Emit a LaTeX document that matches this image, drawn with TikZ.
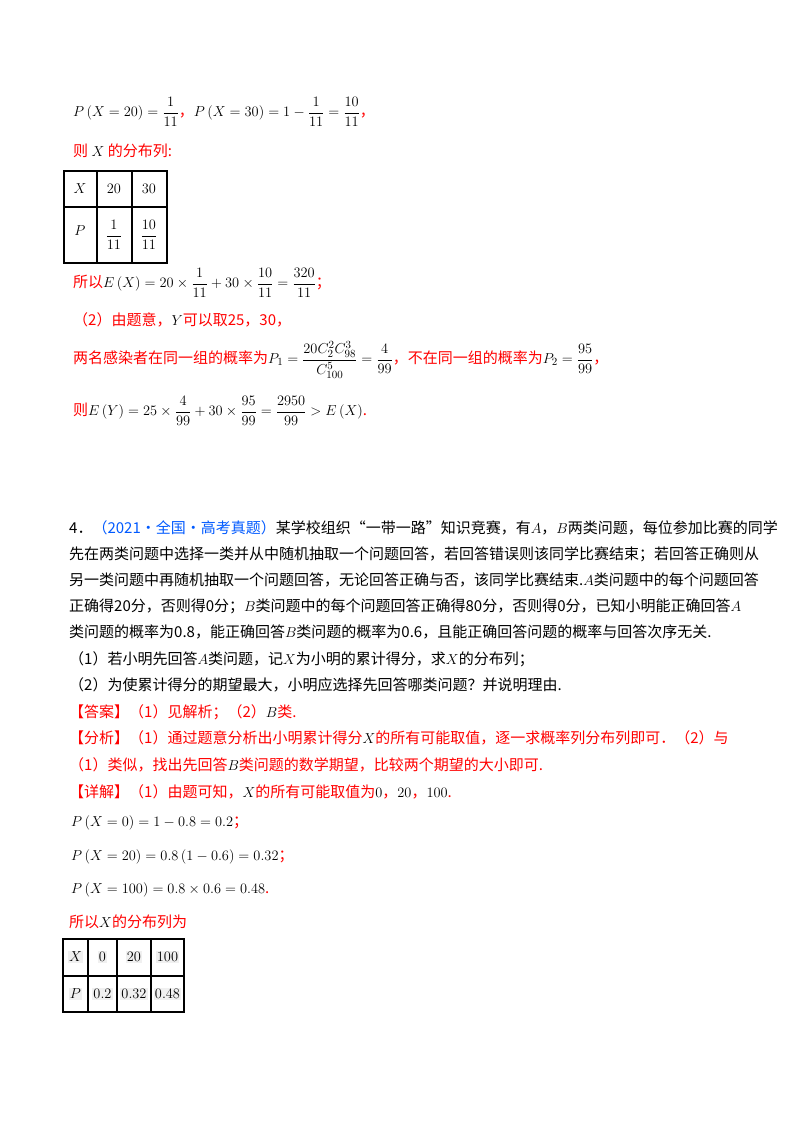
\documentclass[tikz,border=0pt]{standalone}
\usepackage{amsmath}
\usepackage{fontspec}
\setmainfont{Noto Sans CJK SC}
\definecolor{rd}{RGB}{255,0,0}
\definecolor{bl}{RGB}{0,90,255}
\tikzset{
  ln/.style={anchor=west,inner sep=0pt,font=\fontsize{15}{18}\selectfont},
  red/.style={text=rd},
  cell/.style={inner sep=1pt,font=\fontsize{15}{18}\selectfont},
  gcell/.style={inner sep=1pt,fill=gray!12,font=\fontsize{14}{17}\selectfont},
  tab/.style={line width=1.2pt}
}
\newcommand{\R}[1]{\textcolor{rd}{#1}}
\begin{document}
\begin{tikzpicture}[x=1pt,y=-1pt]
\useasboundingbox[fill=white] (0,0) rectangle (800,1132);
\node[ln] (l1) at (73,112) {$P\left(X=20\right)=\dfrac{1}{11}$\R{，}$P\left(X=30\right)=1-\dfrac{1}{11}=\dfrac{10}{11}$\R{，}};
\node[ln] (l2) at (73,151) {\R{则} $X$ \R{的分布列:}};
% table 1
\draw[tab] (64,171) rectangle (167,263);
\draw[tab] (64,207) -- (167,207) (97,171) -- (97,263) (132,171) -- (132,263);
\node[cell] (t11) at (80,189) {$X$};
\node[cell] (t12) at (114,189) {$20$};
\node[cell] (t13) at (149,189) {$30$};
\node[cell] (t21) at (80,231) {$P$};
\node[cell] (t22) at (114,235) {$\dfrac{1}{11}$};
\node[cell] (t23) at (149,235) {$\dfrac{10}{11}$};
\node[ln] (l3) at (73,283) {\R{所以}$E\left(X\right)=20\times\dfrac{1}{11}+30\times\dfrac{10}{11}=\dfrac{320}{11}$\R{；}};
\node[ln] (l4) at (73,320) {\R{（2）由题意，}$Y$\R{可以取25，30，}};
\node[ln] (l5) at (73,360) {\R{两名感染者在同一组的概率为}$P_1=\dfrac{20C_2^2C_{98}^3}{\rule{0pt}{12pt}C_{100}^5}=\dfrac{4}{99}$\R{，不在同一组的概率为}$P_2=\dfrac{95}{99}$\R{，}};
\node[ln] (l6) at (73,411) {\R{则}$E\left(Y\right)=25\times\dfrac{4}{99}+30\times\dfrac{95}{99}=\dfrac{2950}{99}>E\left(X\right)$\R{.}};
% question 4
\node[ln] (q1) at (69,528) {4．\textcolor{bl}{（2021·全国·高考真题）}某学校组织“一带一路”知识竞赛，有$A$，$B$两类问题，每位参加比赛的同学};
\node[ln] (q2) at (69,554) {先在两类问题中选择一类并从中随机抽取一个问题回答，若回答错误则该同学比赛结束；若回答正确则从};
\node[ln] (q3) at (69,580) {另一类问题中再随机抽取一个问题回答，无论回答正确与否，该同学比赛结束.$A$类问题中的每个问题回答};
\node[ln] (q4) at (69,606) {正确得20分，否则得0分；$B$类问题中的每个问题回答正确得80分，否则得0分，已知小明能正确回答$A$};
\node[ln] (q5) at (69,632) {类问题的概率为0.8，能正确回答$B$类问题的概率为0.6，且能正确回答问题的概率与回答次序无关.};
\node[ln] (q6) at (69,659) {（1）若小明先回答$A$类问题，记$X$为小明的累计得分，求$X$的分布列；};
\node[ln] (q7) at (69,685) {（2）为使累计得分的期望最大，小明应选择先回答哪类问题？并说明理由.};
\node[ln] (a1) at (69,712) {\R{【答案】（1）见解析；（2）}$B$\R{类.}};
\node[ln] (a2) at (69,738) {\R{【分析】（1）通过题意分析出小明累计得分}$X$\R{的所有可能取值，逐一求概率列分布列即可．（2）与}};
\node[ln] (a3) at (69,765) {\R{（1）类似，找出先回答}$B$\R{类问题的数学期望，比较两个期望的大小即可.}};
\node[ln] (a4) at (69,792) {\R{【详解】（1）由题可知，}$X$\R{的所有可能取值为}$0$\R{，}$20$\R{，}$100$\R{.}};
\node[ln] (e1) at (71,823) {$P\left(X=0\right)=1-0.8=0.2$\R{；}};
\node[ln] (e2) at (71,857) {$P\left(X=20\right)=0.8\left(1-0.6\right)=0.32$\R{；}};
\node[ln] (e3) at (71,890) {$P\left(X=100\right)=0.8\times0.6=0.48$\R{.}};
\node[ln] (e4) at (69,922) {\R{所以}$X$\R{的分布列为}};
% table 2
\draw[tab] (63,939) rectangle (184,1012);
\draw[tab] (63,976) -- (184,976) (88,939) -- (88,1012) (117,939) -- (117,1012) (151,939) -- (151,1012);
\node[gcell] (s11) at (75.5,957) {$X$};
\node[gcell] (s12) at (102.5,957) {$0$};
\node[gcell] (s13) at (134,957) {$20$};
\node[gcell] (s14) at (167.5,957) {$100$};
\node[gcell] (s21) at (75.5,994) {$P$};
\node[gcell] (s22) at (102.5,994) {$0.2$};
\node[gcell] (s23) at (134,994) {$0.32$};
\node[gcell] (s24) at (167.5,994) {$0.48$};
\end{tikzpicture}
\end{document}
